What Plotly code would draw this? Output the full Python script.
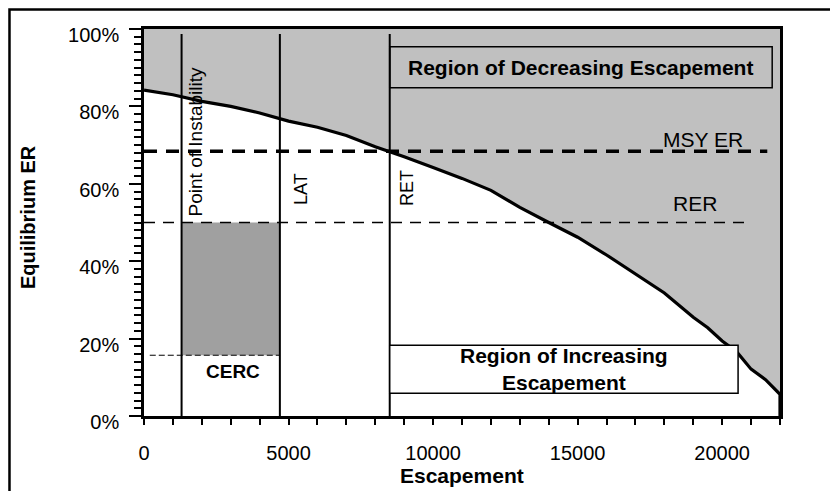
import plotly.graph_objects as go

# ---- data ----
escapement = [0, 1000, 2000, 3000, 4000, 5000, 6000, 7000, 8000, 8500, 9000,
              10000, 11000, 12000, 13000, 14000, 15000, 16000, 17000, 18000,
              19000, 19500, 20000, 20500, 21000, 21500, 22000, 22000]
equilibrium_er = [84.2, 83.0, 81.3, 80.0, 78.3, 76.2, 74.6, 72.5, 69.6, 68.4, 67.0,
                  64.2, 61.4, 58.3, 53.9, 50.0, 46.2, 41.6, 36.6, 31.8,
                  25.5, 22.8, 19.4, 16.6, 12.1, 9.4, 5.6, 0.0]

reference_names = ["Point of Instability", "LAT", "RET"]
reference_escapement = [1300, 4700, 8500]
msy_er = 68.4
rer = 50.0
cerc = 15.7

y_ticks = [0, 20, 40, 60, 80, 100]
x_ticks = [0, 5000, 10000, 15000, 20000]

FONT = "Liberation Sans, Arial, sans-serif"

fig = go.Figure()

# curve with white area below (grey region above = plot background)
fig.add_trace(go.Scatter(
    x=escapement, y=equilibrium_er, mode="lines",
    line=dict(color="black", width=3.2),
    fill="tozeroy", fillcolor="white", hoverinfo="skip", showlegend=False))

shapes = []
# dark grey CERC-RER region
shapes.append(dict(type="rect", xref="x", yref="y",
                   x0=reference_escapement[0], x1=reference_escapement[1],
                   y0=cerc, y1=rer, fillcolor="#a0a0a0", line=dict(width=0),
                   layer="above"))
# vertical reference lines
for xv in reference_escapement:
    shapes.append(dict(type="line", xref="x", yref="y", x0=xv, x1=xv, y0=0, y1=98.7,
                       line=dict(color="black", width=2)))
# MSY ER line
shapes.append(dict(type="line", xref="x", yref="y", x0=0, x1=21560, y0=msy_er, y1=msy_er,
                   line=dict(color="black", width=3.5, dash="13px,9px")))
# RER line
shapes.append(dict(type="line", xref="x", yref="y", x0=0, x1=20860, y0=rer, y1=rer,
                   line=dict(color="black", width=1.5, dash="11px,8px")))
# CERC line
shapes.append(dict(type="line", xref="x", yref="y", x0=200, x1=reference_escapement[1],
                   y0=cerc, y1=cerc,
                   line=dict(color="black", width=1, dash="6px,3px")))
# region boxes
shapes.append(dict(type="rect", xref="x", yref="y", x0=reference_escapement[2], x1=21730,
                   y0=84.8, y1=95.4, line=dict(color="black", width=1.5)))
shapes.append(dict(type="rect", xref="x", yref="y", x0=reference_escapement[2], x1=20550,
                   y0=5.9, y1=18.3, fillcolor="white", line=dict(color="black", width=1.5)))
# outer chart border
shapes.append(dict(type="rect", xref="paper", yref="paper", x0=-0.2115, x1=1.2,
                   y0=-0.3, y1=1.0505, line=dict(color="black", width=2.5),
                   layer="above"))

annotations = []
def ann(text, x, y, size, bold=False, angle=0, xref="x", yref="y"):
    annotations.append(dict(text=f"<b>{text}</b>" if bold else text, x=x, y=y,
                            xref=xref, yref=yref, showarrow=False, textangle=angle,
                            font=dict(family=FONT, size=size, color="black"),
                            xanchor="center", yanchor="middle"))

ann("Region of Decreasing Escapement", 15115, 90.1, 21, bold=True)
ann("Region of Increasing<br>Escapement", 14525, 12.1, 21, bold=True)
ann("MSY ER", 19340, 71.4, 21)
ann("RER", 19070, 54.8, 21)
ann("CERC", 3080, 11.4, 19, bold=True)
ann(reference_names[0], 1765, 70.7, 19, angle=-90)
ann(reference_names[1], 5455, 58.6, 18, angle=-90)
ann(reference_names[2], 9118, 58.8, 18, angle=-90)
ann("Escapement", 0.5, -0.1546, 21, bold=True, xref="paper", yref="paper")
ann("Equilibrium ER", -0.1824, 0.514, 20, bold=True, angle=-90, xref="paper", yref="paper")

fig.update_layout(
    width=838, height=491,
    margin=dict(l=136, r=66, t=21, b=83),
    paper_bgcolor="white", plot_bgcolor="#c0c0c0",
    font=dict(family=FONT, size=20, color="black"),
    shapes=shapes, annotations=annotations, showlegend=False,
)
fig.update_xaxes(
    range=[0, 22000], tickvals=x_ticks, ticktext=[str(v) for v in x_ticks],
    showgrid=False, zeroline=False,
    showline=True, mirror=True, linecolor="black", linewidth=2.5,
    ticks="outside", ticklen=6, tickwidth=1.5, tickcolor="black",
    minor=dict(dtick=1000, ticks="outside", ticklen=6, tickwidth=1.5, tickcolor="black",
               showgrid=False),
    tickfont=dict(family=FONT, size=20), ticklabelstandoff=11,
)
fig.update_yaxes(
    range=[0, 100], tickvals=y_ticks, ticktext=[f"{v}%" for v in y_ticks],
    showgrid=False, zeroline=False,
    showline=True, mirror=True, linecolor="black", linewidth=2.5,
    ticks="outside", ticklen=12, tickwidth=1.5, tickcolor="black",
    minor=dict(dtick=2, ticks="outside", ticklen=7, tickwidth=1.5, tickcolor="black",
               showgrid=False),
    tickfont=dict(family=FONT, size=20), ticklabelstandoff=6, ticklabelshift=6,
)

fig.write_html("out.html")
